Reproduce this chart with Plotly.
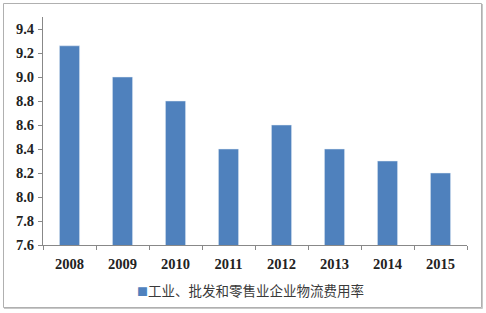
import plotly.graph_objects as go

years = ["2008", "2009", "2010", "2011", "2012", "2013", "2014", "2015"]
values = [9.26, 9.0, 8.8, 8.4, 8.6, 8.4, 8.3, 8.2]
series_name = "工业、批发和零售业企业物流费用率"

W, H = 486, 313
L, R, T, B = 43, 19, 17, 68
pw, ph = W - L - R, H - T - B

def px(x):
    return (x - L) / pw

def py(y):
    return (H - B - y) / ph

fig = go.Figure()
fig.add_trace(go.Bar(x=years, y=values, name=series_name, marker_color="#4F81BD",
                     showlegend=False))

tickfont = dict(family="Liberation Serif", size=14.5, color="#222", weight="bold")

fig.update_layout(
    width=W, height=H,
    margin=dict(l=L, r=R, t=T, b=B),
    paper_bgcolor="white", plot_bgcolor="white",
    bargap=0.62,
    showlegend=False,
    xaxis=dict(type="category", showline=True, linecolor="#888", linewidth=1,
               ticks="outside", tickson="boundaries", ticklen=4, tickcolor="#888",
               tickfont=tickfont, ticklabelstandoff=6,
               showgrid=False, zeroline=False),
    yaxis=dict(range=[7.6, 9.5], tick0=7.6, dtick=0.2, tickformat=".1f",
               showline=True, linecolor="#888", linewidth=1,
               ticks="outside", ticklen=4, tickcolor="#888",
               tickfont=tickfont, ticklabelstandoff=1,
               showgrid=False, zeroline=False),
    annotations=[
        dict(xref="paper", yref="paper", x=px(250), y=py(290),
             xanchor="center", yanchor="middle", showarrow=False,
             text="<span style='color:#4F81BD;font-size:11px'>■</span>" + series_name,
             font=dict(family="Noto Sans CJK SC", size=13.5, color="#3a3a3a")),
    ],
    shapes=[
        dict(type="rect", xref="paper", yref="paper",
             x0=px(3.5), x1=px(481.5), y0=py(307.5), y1=py(3.5),
             line=dict(color="#b0b0b0", width=1), layer="below"),
        dict(type="line", xref="paper", yref="paper",
             x0=px(482.5), x1=px(482.5), y0=py(308.5), y1=py(4),
             line=dict(color="#c8c8c8", width=1)),
        dict(type="line", xref="paper", yref="paper",
             x0=px(4), x1=px(482.5), y0=py(308.5), y1=py(308.5),
             line=dict(color="#c8c8c8", width=1)),
    ],
)

fig.write_html("out.html")
